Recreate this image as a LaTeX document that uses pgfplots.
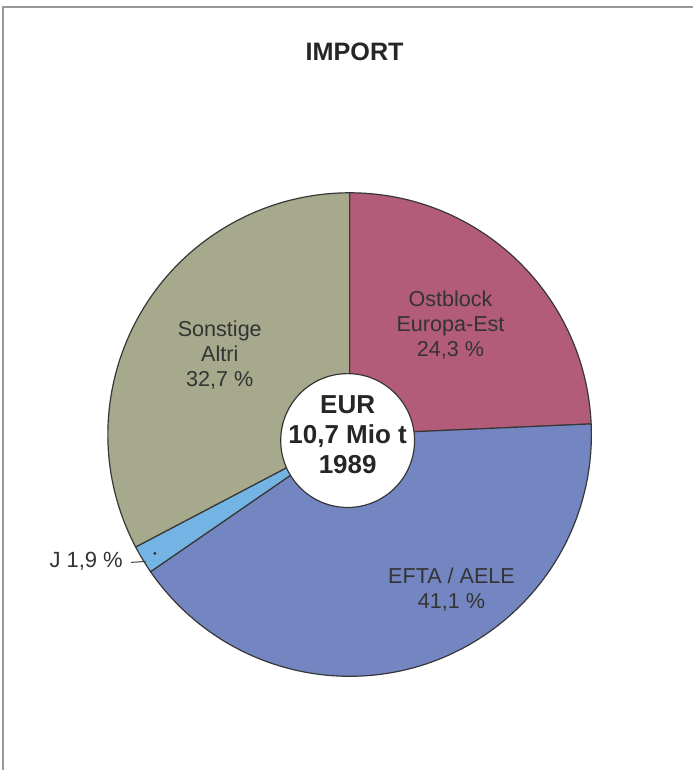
\documentclass[border=0pt]{standalone}
\usepackage{pgfplots}
\usepackage{pgfplotstable}
\pgfplotsset{compat=1.18}
\usepackage{fontspec}
\setmainfont{Liberation Sans}

\definecolor{cOst}{RGB}{178,92,122}
\definecolor{cEfta}{RGB}{116,134,194}
\definecolor{cJ}{RGB}{116,180,228}
\definecolor{cSon}{RGB}{167,169,140}
\definecolor{edge}{RGB}{55,55,55}

\pgfplotstableread{
name share
Ostblock 24.3
EFTA 41.1
J 1.9
Sonstige 32.7
}\piedata

\begin{document}
\begin{tikzpicture}
\pgfplotstablegetelem{0}{share}\of\piedata \let\vA\pgfplotsretval
\pgfplotstablegetelem{1}{share}\of\piedata \let\vB\pgfplotsretval
\pgfplotstablegetelem{2}{share}\of\piedata \let\vC\pgfplotsretval
\pgfplotstablegetelem{3}{share}\of\piedata \let\vD\pgfplotsretval
\pgfmathsetmacro\aA{90-3.6*\vA}
\pgfmathsetmacro\aB{\aA-3.6*\vB}
\pgfmathsetmacro\aC{\aB-3.6*\vC}
\pgfmathsetmacro\aD{\aC-3.6*\vD}
\begin{axis}[x=0.5pt,y=0.5pt,xmin=0,xmax=694,ymin=0,ymax=771,
  hide axis,clip=false]
\path (axis cs:0,0) rectangle (axis cs:694,771);
% frame
\draw[gray!80, line width=0.8pt] (axis cs:3,0) -- (axis cs:3,764) -- (axis cs:694,764);
% title
\node[font=\fontsize{12.6}{14}\selectfont\bfseries, text=black!85] at (axis cs:355,719) {IMPORT};
% slices
\filldraw[fill=cOst, draw=edge, line width=0.6pt] (axis cs:350,336) -- ++(90:121pt) arc[start angle=90,end angle=\aA,radius=121pt] -- cycle;
\filldraw[fill=cEfta, draw=edge, line width=0.6pt] (axis cs:350,336) -- ++(\aA:121pt) arc[start angle=\aA,end angle=\aB,radius=121pt] -- cycle;
\filldraw[fill=cJ, draw=edge, line width=0.6pt] (axis cs:350,336) -- ++(\aB:121pt) arc[start angle=\aB,end angle=\aC,radius=121pt] -- cycle;
\filldraw[fill=cSon, draw=edge, line width=0.6pt] (axis cs:350,336) -- ++(\aC:121pt) arc[start angle=\aC,end angle=\aD,radius=121pt] -- cycle;
% center
\filldraw[fill=white, draw=edge, line width=0.6pt] (axis cs:348,330) circle[radius=33.5pt];
\node[align=center, font=\fontsize{13}{15}\selectfont\bfseries, text=black!85] at (axis cs:348,336) {EUR\\10,7 Mio t\\1989};
% labels
\node[align=center, font=\fontsize{10.8}{12.5}\selectfont, text=black!80] at (axis cs:451,446) {Ostblock\\Europa-Est\\24,3 \%};
\node[align=center, font=\fontsize{10.8}{12.5}\selectfont, text=black!80] at (axis cs:220,416) {Sonstige\\Altri\\32,7 \%};
\node[align=center, font=\fontsize{10.8}{12.5}\selectfont, text=black!80] at (axis cs:452,181) {EFTA / AELE\\41,1 \%};
\node[anchor=east, font=\fontsize{11}{12.5}\selectfont, text=black!80] at (axis cs:130,209) {J 1,9 \%};
\draw[black!75, line width=0.5pt] (axis cs:131,208) -- (axis cs:146,209);
\fill[black!80] (axis cs:155,217) circle[radius=0.8pt];
\end{axis}
\end{tikzpicture}
\end{document}
